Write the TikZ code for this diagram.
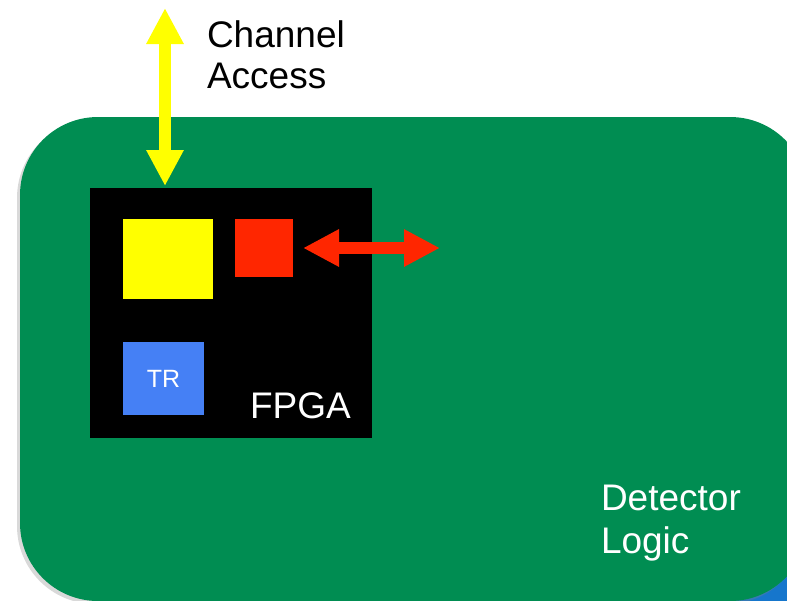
\documentclass[tikz,border=0pt]{standalone}
\usepackage{fontspec}
\setmainfont{Liberation Sans}
\usetikzlibrary{arrows.meta,shadows}

\definecolor{boardgreen}{RGB}{0,141,82}
\definecolor{backblue}{RGB}{22,118,204}
\definecolor{chipyellow}{RGB}{255,255,0}
\definecolor{chipred}{RGB}{255,38,0}
\definecolor{chipblue}{RGB}{69,128,245}

\tikzset{
  bigfont/.style={font=\fontsize{37}{41}\selectfont},
  fatarrow/.style={line width=12pt, {Triangle[length=36pt,width=35pt]}-{Triangle[length=36pt,width=35pt]}},
}

\begin{document}
\begin{tikzpicture}[x=1pt, y=-1pt, every node/.style={inner sep=0pt, outer sep=0pt},
    board/.style={rectangle, rounded corners=78pt, fill=boardgreen},
    cell/.style={rectangle, fill=#1}]
		\useasboundingbox (0,0) rectangle (787,600);
		\clip (0,0) rectangle (787,600);
		
		% board and the one behind it
		\node[board, fill=backblue, minimum width=160pt, minimum height=240pt] at (780,520) (back) {};
		\node[board, minimum width=788pt, minimum height=484pt,
		  drop shadow={shadow xshift=-3pt, shadow yshift=-3pt, opacity=.3}] at (414,359) (board) {};
		
		% chip
		\node[cell=black, minimum width=282pt, minimum height=250pt] at (231,313) (fpga) {};
		\node[cell=chipyellow, minimum width=90pt, minimum height=80pt] at (168,259) (ca) {};
		\node[cell=chipred, minimum width=58pt, minimum height=58pt] at (264,248) (det) {};
		\node[cell=chipblue, minimum width=81pt, minimum height=73pt, text=white,
		  font=\fontsize{25}{25}\selectfont] at (163.5,378.5) (tr) {TR};
		
		% labels
		\node[bigfont, text=white, anchor=base west] at (250,418) (fpgalabel) {FPGA};
		\node[bigfont, align=left, anchor=base west] at (207,88) (access) {Channel\\Access};
		\node[font=\fontsize{37}{43}\selectfont, text=white, align=left, anchor=base west] at (601,553) (logic) {Detector\\Logic};
		
		\coordinate (caend) at (165,8);
		\coordinate (detend) at (440,248);
		\draw[fatarrow, chipyellow, shorten >=2pt] (caend) -- (caend |- fpga.north);
		\draw[fatarrow, chipred, shorten <=10pt] (det.east) -- (detend);
		\end{tikzpicture}
\end{document}
